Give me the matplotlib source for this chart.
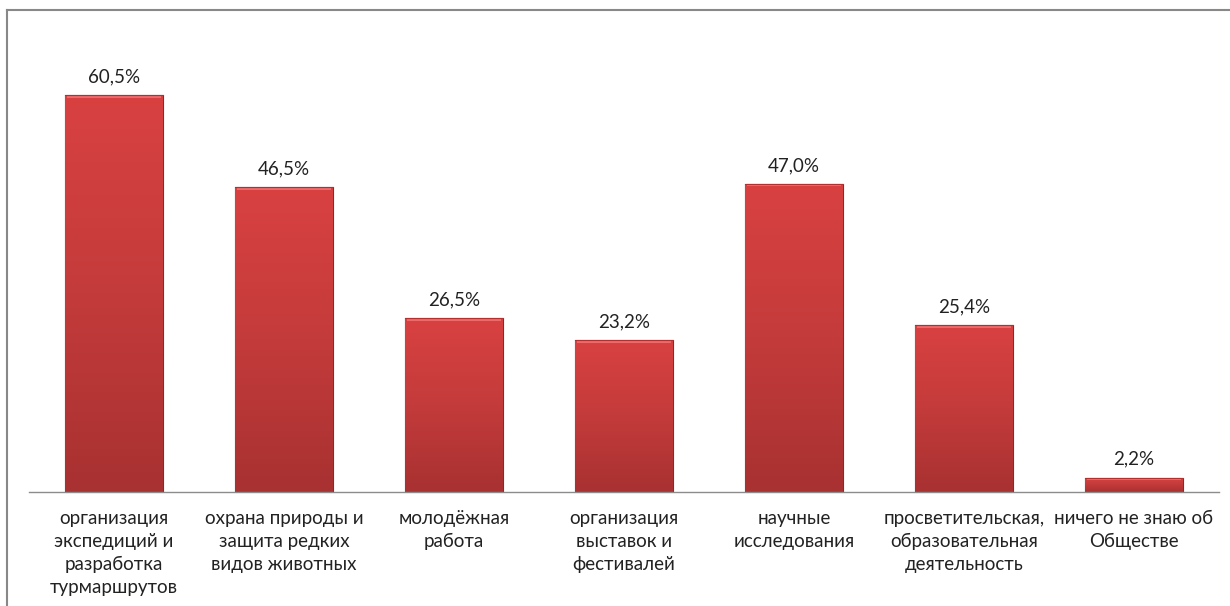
import matplotlib
matplotlib.use("Agg")
import matplotlib.pyplot as plt
import numpy as np
from matplotlib.colors import LinearSegmentedColormap

categories = [
    "организация\nэкспедиций и\nразработка\nтурмаршрутов",
    "охрана природы и\nзащита редких\nвидов животных",
    "молодёжная\nработа",
    "организация\nвыставок и\nфестивалей",
    "научные\nисследования",
    "просветительская,\nобразовательная\nдеятельность",
    "ничего не знаю об\nОбществе",
]
values = [60.5, 46.5, 26.5, 23.2, 47.0, 25.4, 2.2]
value_labels = ["60,5%", "46,5%", "26,5%", "23,2%", "47,0%", "25,4%", "2,2%"]

plt.rcParams['font.family'] = ['Lato', 'DejaVu Sans']

W, H = 1230, 606
fig = plt.figure(figsize=(W/100, H/100), dpi=100)
ax = fig.add_axes([29/W, 1-492/H, (1219-29)/W, (492-33)/H])
ax.set_xlim(-0.5, len(values)-0.5)
ax.set_ylim(0, 70)

x = np.arange(len(values))
bars = ax.bar(x, values, width=0.576, color="#C83A3A", edgecolor="#8E2626", linewidth=0.8, zorder=2)

cmap = LinearSegmentedColormap.from_list("redgrad", ["#A83131", "#C43B3B", "#D94141"])
grad = np.linspace(0, 1, 256).reshape(-1, 1)
for b in bars:
    x0, y0 = b.get_x(), b.get_y()
    w, h = b.get_width(), b.get_height()
    im = ax.imshow(grad, cmap=cmap, origin="lower", aspect="auto",
                   extent=[x0, x0+w, y0, y0+h], zorder=3)
    im.set_clip_path(b)
    ax.plot([x0+0.01, x0+w-0.01], [y0+h-0.25, y0+h-0.25], color="#EE6A6A", lw=1.5, zorder=4,
            solid_capstyle="butt")
    ax.plot([x0, x0+w], [y0+h, y0+h], color="#B33030", lw=0.8, zorder=5)

for xi, v, lab in zip(x, values, value_labels):
    ax.annotate(lab, (xi, v), xytext=(0, 7), textcoords="offset points",
                ha="center", va="bottom", fontsize=13.5, color="#222222")

ax.set_xticks(x)
ax.set_xticklabels(categories, fontsize=13.5, color="#222222", linespacing=1.42)
ax.tick_params(axis="x", length=0, pad=13)
ax.set_yticks([])
for s in ["top", "right", "left"]:
    ax.spines[s].set_visible(False)
ax.spines["bottom"].set_color("#8c8c8c")
ax.spines["bottom"].set_linewidth(1.0)
ax.spines["bottom"].set_zorder(6)

fig.add_artist(plt.Line2D([7/W, 1], [1-10/H, 1-10/H], color="#888888", lw=1.5))
fig.add_artist(plt.Line2D([7/W, 7/W], [0, 1-10/H], color="#888888", lw=1.5))

fig.savefig("out.png", dpi=100)
